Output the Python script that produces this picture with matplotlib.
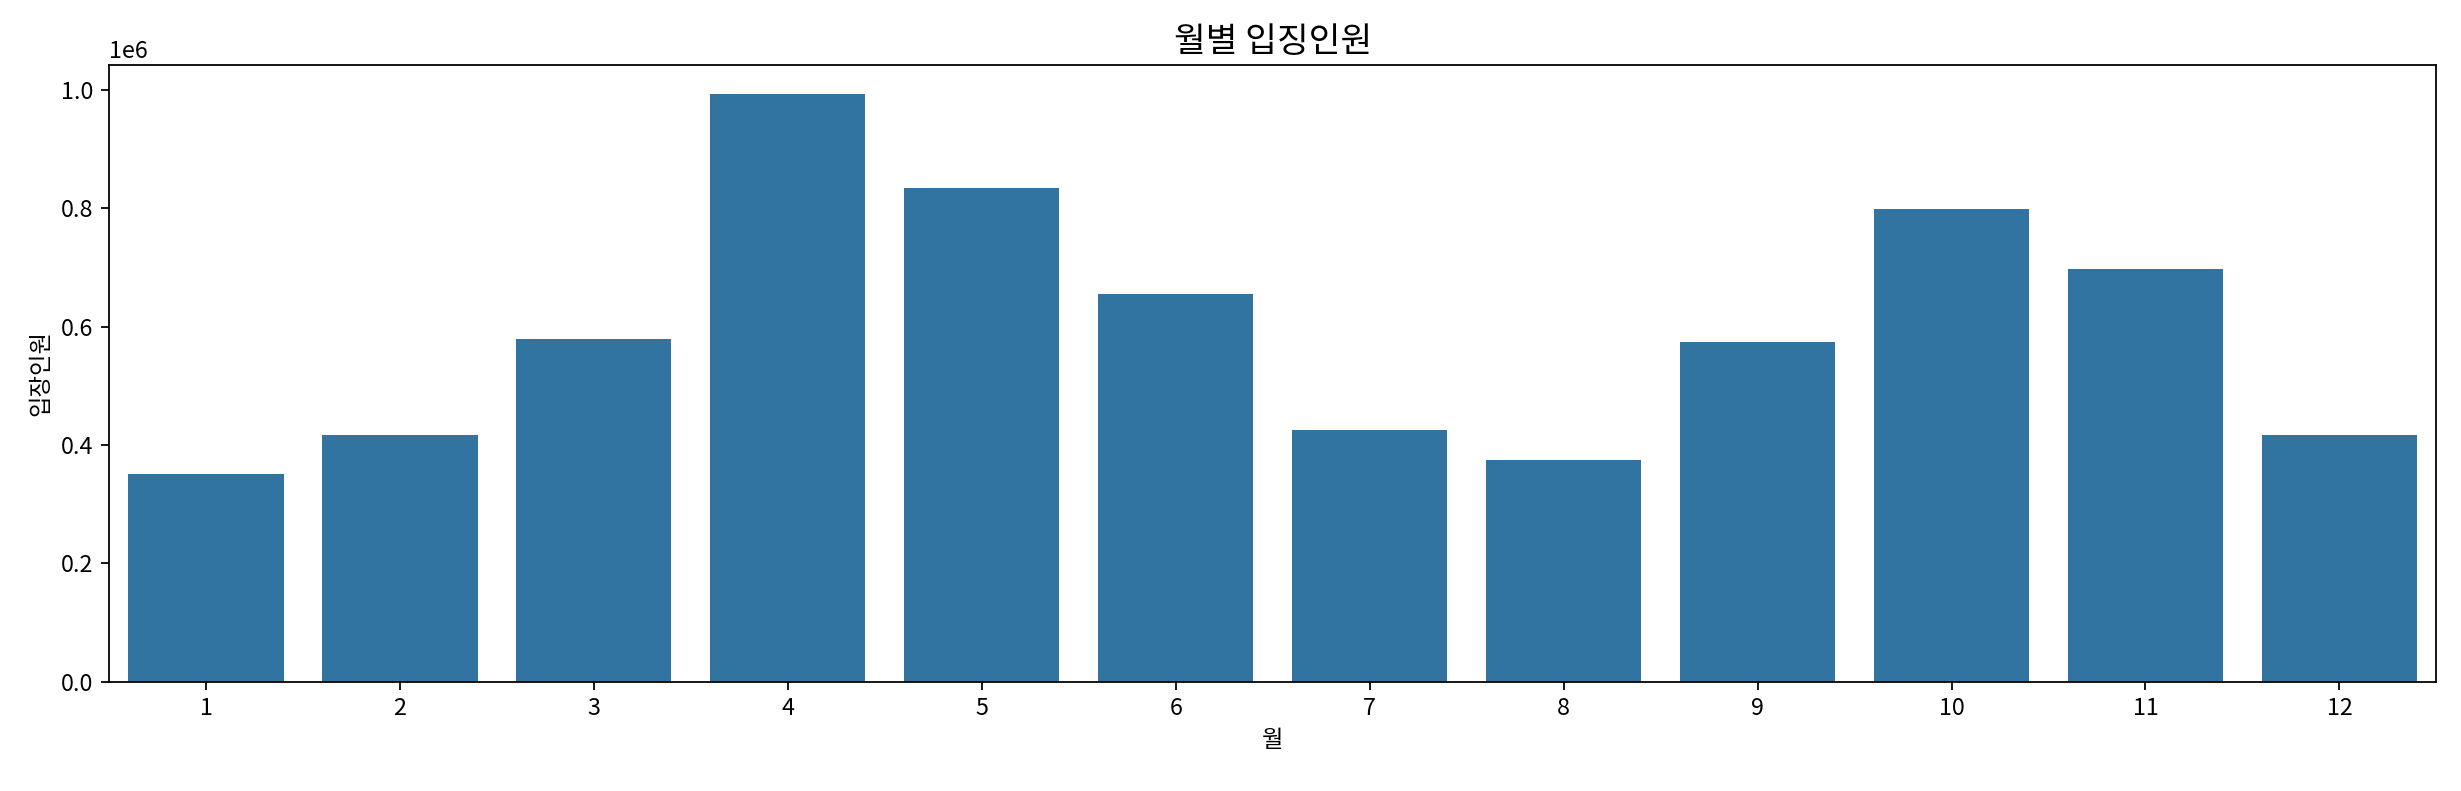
import matplotlib
matplotlib.use("Agg")
import matplotlib.pyplot as plt
import numpy as np

plt.rcParams['font.family'] = ['Noto Sans CJK KR', 'DejaVu Sans']
plt.rcParams['axes.unicode_minus'] = False

months = [1, 2, 3, 4, 5, 6, 7, 8, 9, 10, 11, 12]
visitors = [350300, 416400, 579000, 992700, 835000, 655000,
            425000, 374000, 574000, 799500, 697500, 416400]

dpi = 160
fig = plt.figure(figsize=(2461 / dpi, 791 / dpi), dpi=dpi)
ax = fig.add_axes([0.0443, 0.138, 0.9457, 0.780])

x = np.arange(len(months))
ax.bar(x, visitors, width=0.8, color='#3274a1')
ax.set_xticks(x)
ax.set_xticklabels([str(m) for m in months])
ax.set_xlim(-0.5, len(months) - 0.5)
ax.set_ylim(0, 1.0423e6)
ax.set_xlabel('월', fontsize=10.5)
ax.set_ylabel('입장인원', fontsize=10.5)
ax.set_title('월별 입징인원', fontsize=15.5)
ax.tick_params(labelsize=10.5)
ax.yaxis.get_offset_text().set_fontsize(10.5)

fig.savefig('out.png', dpi=dpi)
